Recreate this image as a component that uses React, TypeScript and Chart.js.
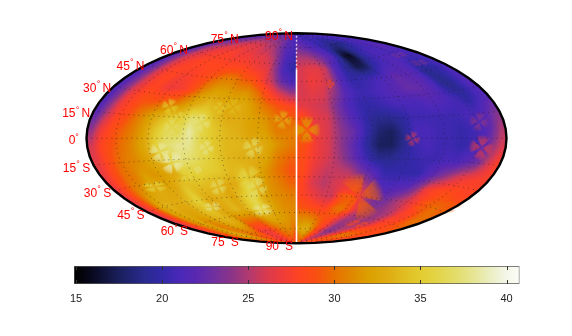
import React, { useEffect, useRef } from "react";
import { Chart, registerables } from "chart.js";

Chart.register(...registerables);

// ---------- data (value on the colour scale) ----------
const gridLats = [85, 75, 65, 55, 45, 35, 25, 15, 5, -5, -15, -25, -35, -45, -55, -65, -75, -85];
const gridLons = Array.from({ length: 36 }, (_, i) => -175 + i * 10);

const rowN85 = [22,22,22,22.5,22.5,23,23,23,23,23,23,23,22.5,22.5,22,22,21.5,21, 21.5,21,21,20.5,20.5,20.5,20.5,21,21,21,21,21,21,21,21,21,21,21];
const rowN75 = [22,22.5,23.5,24,25,25.5,26,26,26,26,25.5,25,25,24,23,22,21.5,21, 23,22.5,22,21.5,21,20.5,20,19.5,19,18.5,18.5,19,19.5,20,21,21,21,21];
const rowN65 = [22,24,25.5,26,27,27,27.5,27.5,27,27,27,26.5,26.5,26,25,23,21,20.5, 25,25,24.5,23.5,22.5,21.5,19.5,16.5,16,18,19.5,20.5,21,21,21,21.5,22,21];
const rowN55 = [22,24,26,27,27.5,28,28,28,28,28,28,28,27.5,27,26.5,24,21,20, 26,26.5,26.5,25.5,22,20,18.5,17,17.5,19.5,20.5,21,21.5,21.5,21,20.5,20.5,21];
const rowN45 = [21.5,23.5,26,27.5,28,27.5,27.5,28,28.5,29.5,30.5,30.5,29.5,29,27.5,25.5,22.5,21, 26,27,26.5,25,21.5,20,20,20.5,21,21.5,22.5,22,22,21,19,19.5,20,21];
const rowN35 = [21.5,23.5,26,27.5,28,27,27,27.5,29,31,32,32,31.5,31.5,30,28,26,24.5, 26,26.5,26,24,21.5,20.5,20.5,21,21.5,22,22.5,22.5,22,21,19,19,20.5,21.5];
const rowN25 = [21.5,24,27,28,29,29,29.5,30,31.5,33,34,33,32.5,33,31.5,30,29,28, 26.5,26,25.5,23,21,20,20,20.5,21,21,21,21.5,21.5,21,20.5,19.5,20.5,21.5];
const rowN15 = [22,25,27.5,28.5,30,31.5,33,34.5,34.5,37,36,34,33,33,32,31.5,30,29.5, 28.5,26.5,26,23.5,21.5,20,19,19,19.5,20.5,20.5,20.5,20.5,20.5,21,21,22,23.5];
const rowN05 = [24,27,28.5,29.5,30.5,32,34.5,36.5,36,38.5,36,34.7,33.7,33.2,32.2,32,30.5,30.5, 30,27,26,24,22.5,20,18,17.5,19,21,21,20.5,20.5,20,20.5,21,22.5,25];
const rowS05 = [26,28,29,30,31,32.5,35,37,38,38,36,34.7,33.7,33.7,33.2,33,31.5,30.5, 29,27,26,24,22,19.5,17.5,17.5,19,20.5,21,20.5,20.5,20,20.5,21,24,26];
const rowS15 = [26.5,28,29.5,30.5,31,32,33.5,35,37.5,37,36,34.7,33.7,33.2,33.2,32.5,30.5,29.5, 28.5,27,26,24.5,22.5,20.5,19,19,19.5,20,20.5,20.5,21,21,22,23,25.5,27.5];
const rowS25 = [27,28.5,30,30.5,32,31.5,32,33,35,35.5,35,34.7,33.7,34.2,33,31.5,30,29, 28.5,26.5,25.5,25.5,25,23,21.5,20,20,20,20,21.5,23,24.5,26,27,27.5,27.5];
const rowS35 = [27,29,31,32,33,32.5,32.5,34.5,34,34,33.5,33,33,35.5,33,31.5,30.5,29.5, 28,26,25.2,26,26.5,26,24.5,21.5,21,21.5,22,24,27,28,28.5,28.5,28,28];
const rowS45 = [26.5,29,32.5,33.5,33,33,34,35.5,33,33,33.5,32.5,34.5,36.5,33,31.5,31,30.5, 28,27,26,25.7,28,29,26.8,24,22.8,23,24.5,25.5,26.8,28,29,30,30,29.5];
const rowS55 = [26,28.5,31.5,32.5,32,32.5,34,34.2,33,32.8,33.7,33,34.5,36.2,34,32,31.2,31, 29,28.5,28,27.7,29.7,30.5,28.2,26,24.5,24,24.2,24.7,25.7,27.5,27.5,29,30,30];
const rowS65 = [27,28.5,30.5,32,30.5,31,32.5,33.2,32.5,30,30,29.7,30.5,32.2,32.5,32,31.7,31, 31,31,30.5,29.5,28.7,28,26,24.5,24.5,25,24.2,25,26.5,28,28.2,28.5,28.5,29];
const rowS75 = [29.5,30,31.5,33,31,30,30,30,28.5,27,27,27.2,29,29.5,30.5,31,31,30, 32,33,33,31,29,27.5,25.5,24,24,25,26,28,30.5,30,30,29,28,28];
const rowS85 = [28,28,29,29,29,28,27,27,27,27,27,28,28,29,29,29,29,28, 29,30,30,30,29,28,27,26,26,27,28,29,29,28,28,28,28,28];

const rows = [rowN85,rowN75,rowN65,rowN55,rowN45,rowN35,rowN25,rowN15,rowN05,rowS05,rowS15,rowS25,rowS35,rowS45,rowS55,rowS65,rowS75,rowS85];

// small four-lobed spots: longitude, latitude, value
const spotLons = [-108,-95,-100,-76,-64,-53,-11,-111,-103,-71,-95,-83,-34,-73,-41,-37,-134,-98,-43, 8,33,92,154,155,152,155,65,104,159];
const spotLats = [21.9,14.5,8.1,11.4,22.8,23.8,14.3,-9.3,-17.1,-7,-26.2,-23,-7.2,-36.4,-30.4,-38.4,-32.2,-50.8,-56.8, 6.6,42.6,-0.4,10,-5.7,57.6,50.2,-44.8,-65.6,-43.9];
const spotVals = [35,36,37,37.5,35,34,33.5,38.5,39,38,36,38,37,37,36,37,36,38,38, 32,28.5,25.5,24,26,23.5,23.5,29.5,28.5,29.5];

const latLabelValues = [90,75,60,45,30,15,0,-15,-30,-45,-60,-75,-90];
const graticuleLats = [-75,-60,-45,-30,-15,0,15,30,45,60,75];
const graticuleLons = [-150,-120,-90,-60,-30,30,60,90,120,150];

const scaleMin = 14.88;
const scaleMax = 40.75;
const scaleTicks = [15,20,25,30,35,40];
const colourValues = [15,16,17.5,19,20,21,22,23,24,25,26,27,28,29,30,31,32,33,34,35,36,37,38,39,40,40.75];
const colourHex = ["#000000","#0a0a22","#1a1f5c","#2a2a90","#3328a8","#4a28b8","#5a28b0","#7030a0","#8a3488","#b03a70","#d83a50","#f03c38","#ff4420","#f85010","#e87000","#e08800","#dca000","#dfaa10","#e0bc20","#e3cc30","#e3d448","#e3dc68","#e6e490","#eaeec0","#f4f6e8","#fdfdf8"];

// ---------- display settings ----------
const W = 572, H = 336;
const CX = 296.5, CY = 138.25, AX = 210, AY = 105;
const spotPx = [9,7,9,10,7,9,10,11,12,8,8,4,11,9,13,11,13,10,11, 14,5,8,10,13,9,10,24,13,25];
const spotSquash = [1,1,1,1,1,1,1,1,1,1,1,1,1,1,1,1,0.45,0.5,0.6, 1,1,1,1,1,0.35,0.35,1,0.3,0.3];
const spotTurn = [20,10,0,15,0,10,10,20,30,10,35,10,20,25,30,20,30,35,30, 0,0,15,10,10,15,20,-20,-15,-25];

const rgb = colourHex.map(h => [parseInt(h.slice(1,3),16),parseInt(h.slice(3,5),16),parseInt(h.slice(5,7),16)]);
function colourOf(v: number): number[] {
  if (v <= colourValues[0]) return rgb[0];
  for (let i = 1; i < colourValues.length; i++) {
    if (v <= colourValues[i]) {
      const t = (v - colourValues[i-1]) / (colourValues[i] - colourValues[i-1]);
      return rgb[i-1].map((c, k) => c + (rgb[i][k] - c) * t);
    }
  }
  return rgb[rgb.length-1];
}
const D2R = Math.PI / 180;
function hammer(lon: number, lat: number) {
  const p = lat * D2R, l = lon * D2R / 2;
  const d = Math.sqrt(1 + Math.cos(p) * Math.cos(l));
  return { x: Math.cos(p) * Math.sin(l) / d, y: Math.sin(p) / d };
}
function sample(lon: number, lat: number) {
  const r = Math.min(17, Math.max(0, (85 - lat) / 10));
  const c = lon < 0 ? Math.min(17, Math.max(0, (lon + 175) / 10)) : Math.min(35, Math.max(18, 18 + (lon - 5) / 10));
  const r0 = Math.min(16, Math.floor(r)), tr = r - r0;
  const c0 = Math.min(34, Math.floor(c)), tc = c - c0;
  const c1 = (lon < 0 && c0 === 17) ? 17 : c0 + 1;
  const a = rows[r0][c0] * (1 - tc) + rows[r0][c1] * tc;
  const b = rows[r0+1][c0] * (1 - tc) + rows[r0+1][c1] * tc;
  return a * (1 - tr) + b * tr;
}
function spotImage(i: number): HTMLCanvasElement {
  const R = spotPx[i];
  const cv = document.createElement("canvas");
  cv.width = R * 2 + 2;
  cv.height = Math.max(4, Math.round(R * 2 * spotSquash[i]) + 2);
  const g = cv.getContext("2d")!;
  const [r, gr, b] = colourOf(spotVals[i]).map(Math.round);
  g.translate(cv.width / 2, cv.height / 2);
  g.scale(1, spotSquash[i]);
  g.rotate(spotTurn[i] * D2R);
  const grad = g.createRadialGradient(0, 0, 0, 0, 0, R);
  grad.addColorStop(0, `rgba(${r},${gr},${b},0.15)`);
  grad.addColorStop(0.35, `rgba(${r},${gr},${b},0.7)`);
  grad.addColorStop(0.7, `rgba(${r},${gr},${b},0.55)`);
  grad.addColorStop(1, `rgba(${r},${gr},${b},0.05)`);
  g.fillStyle = grad;
  for (let k = 0; k < 4; k++) {
    const mid = k * Math.PI / 2;
    g.beginPath();
    g.moveTo(0, 0);
    g.arc(0, 0, R, mid - 0.55, mid + 0.55);
    g.closePath();
    g.fill();
  }
  return cv;
}

const heatPlugin = {
  id: "heat",
  beforeDatasetsDraw(chart: any) {
    const { x: sx, y: sy } = chart.scales;
    const ctx = chart.ctx;
    const img = ctx.createImageData(W, H);
    for (let py = 0; py < H; py++) {
      const Y = sy.getValueForPixel(py + 0.5);
      for (let px = 0; px < W; px++) {
        const X = sx.getValueForPixel(px + 0.5);
        const s = X * X + Y * Y;
        if (s > 1) continue;
        const z = Math.sqrt(1 - s / 2);
        const lat = Math.asin(Math.min(1, Math.max(-1, z * Math.SQRT2 * Y))) / D2R;
        const lon = 2 * Math.atan2(Math.SQRT2 * z * X, 2 * z * z - 1) / D2R;
        const c = colourOf(sample(lon, lat));
        const o = (py * W + px) * 4;
        img.data[o] = c[0]; img.data[o+1] = c[1]; img.data[o+2] = c[2]; img.data[o+3] = 255;
      }
    }
    const off = document.createElement("canvas");
    off.width = W; off.height = H;
    off.getContext("2d")!.putImageData(img, 0, 0);
    ctx.drawImage(off, 0, 0);
  },
};

const labelPlugin = {
  id: "latLabels",
  afterDatasetsDraw(chart: any) {
    const { x: sx, y: sy } = chart.scales;
    const ctx = chart.ctx;
    ctx.save();
    ctx.fillStyle = "#ff0000";
    ctx.textBaseline = "middle";
    for (const lat of latLabelValues) {
      const e = hammer(-180, lat);
      const ex = sx.getPixelForValue(e.x), ey = sy.getPixelForValue(e.y) + 3;
      const txt = String(Math.abs(lat));
      if (lat === 0) {
        ctx.font = "12px 'Liberation Sans'";
        ctx.textAlign = "right";
        ctx.fillText(txt, ex - 11, ey - 1);
        ctx.font = "9px 'Liberation Sans'";
        ctx.textAlign = "center";
        ctx.fillText("°", ex - 9.5, ey - 4);
        continue;
      }
      const letter = lat > 0 ? "N" : "S";
      const right = ex - 3.5;
      ctx.font = "12px 'Liberation Sans'";
      ctx.textAlign = "right";
      ctx.fillText(letter, right, ey);
      const lw = ctx.measureText(letter).width;
      ctx.fillText(txt, right - lw - 6, ey);
      ctx.font = "9px 'Liberation Sans'";
      ctx.textAlign = "center";
      ctx.fillText("°", right - lw - 4, ey - 4);
    }
    ctx.restore();
  },
};

const barTicksPlugin = {
  id: "barTicks",
  afterDatasetsDraw(chart: any) {
    const { ctx, chartArea } = chart;
    const sx = chart.scales.x;
    ctx.save();
    ctx.strokeStyle = "#333";
    ctx.lineWidth = 1;
    for (const t of scaleTicks) {
      const px = Math.round(sx.getPixelForValue(t)) + 0.5;
      ctx.beginPath();
      ctx.moveTo(px, chartArea.top); ctx.lineTo(px, chartArea.top + 4);
      ctx.moveTo(px, chartArea.bottom); ctx.lineTo(px, chartArea.bottom - 4);
      ctx.stroke();
    }
    ctx.restore();
  },
};

export default function App() {
  const mapRef = useRef<HTMLCanvasElement>(null);
  const barRef = useRef<HTMLCanvasElement>(null);

  useEffect(() => {
    const latSweep: number[] = [];
    for (let l = -180; l <= 180; l += 5) latSweep.push(l);
    const lonSweep: number[] = [];
    for (let l = -90; l <= 90; l += 5) lonSweep.push(l);
    const line = (data: any[], color: string, width: number, order: number, dash: number[] = []) => ({
      data, showLine: true, borderColor: color, borderWidth: width, borderDash: dash,
      pointRadius: 0, order, clip: false, fill: false, tension: 0,
    });
    const dotted = [1, 4];
    const dotColor = "rgba(25,25,25,0.5)";
    const field = rows.flatMap((row, r) => row.map((v, c) => ({ ...hammer(gridLons[c], gridLats[r]), v })));
    const edge = [
      ...lonSweep.map(l => hammer(-180, l)),
      ...lonSweep.slice().reverse().map(l => hammer(180, l)),
      hammer(-180, -90),
    ];
    const images = spotLons.map((_, i) => spotImage(i));
    const datasets: any[] = [
      line(edge, "#000000", 2.4, 0),
      line(lonSweep.filter(l => l <= 55).map(l => hammer(0, l)), "#ffffff", 1.6, 1),
      line(lonSweep.filter(l => l >= 55).map(l => hammer(0, l)), "rgba(255,255,255,0.75)", 1.4, 1, [2, 2]),
      ...graticuleLats.map(la => line(latSweep.map(lo => hammer(lo, la)), dotColor, 1, 2, dotted)),
      ...graticuleLons.map(lo => line(lonSweep.map(la => hammer(lo, la)), dotColor, 1, 2, dotted)),
      {
        data: spotLons.map((lo, i) => ({ ...hammer(lo, spotLats[i]), v: spotVals[i] })),
        pointStyle: images,
        pointRadius: 5,
        showLine: false,
        order: 3,
        clip: false,
      },
      { data: field, pointRadius: 0, showLine: false, order: 4 },
    ];
    const map = new Chart(mapRef.current!, {
      type: "scatter",
      data: { datasets },
      plugins: [heatPlugin, labelPlugin],
      options: {
        animation: false,
        responsive: false,
        events: [],
        layout: { padding: 0, autoPadding: false },
        plugins: { legend: { display: false }, tooltip: { enabled: false } },
        scales: {
          x: { display: false, min: (0 - CX) / AX, max: (W - CX) / AX },
          y: { display: false, min: (CY - H) / AY, max: CY / AY },
        },
      },
    } as any);

    const stops = colourValues.map(v => (v - scaleMin) / (scaleMax - scaleMin));
    const bar = new Chart(barRef.current!, {
      type: "bar",
      data: {
        labels: ["scale"],
        datasets: [{
          data: [[scaleMin, scaleMax]],
          backgroundColor: (c: any) => {
            const a = c.chart.chartArea;
            if (!a) return "#888";
            const g = c.chart.ctx.createLinearGradient(a.left, 0, a.right, 0);
            stops.forEach((s, i) => g.addColorStop(Math.max(0, s), colourHex[i]));
            return g;
          },
          borderColor: "#555",
          borderWidth: 1,
          borderSkipped: false,
          barPercentage: 1,
          categoryPercentage: 1,
        }],
      },
      plugins: [barTicksPlugin],
      options: {
        indexAxis: "y",
        animation: false,
        responsive: false,
        events: [],
        layout: { padding: { left: 74, right: 52.5, top: 6, bottom: 14 }, autoPadding: false },
        plugins: { legend: { display: false }, tooltip: { enabled: false } },
        scales: {
          y: { display: false },
          x: {
            min: scaleMin, max: scaleMax,
            border: { display: false },
            grid: { display: false },
            afterBuildTicks: (s: any) => { s.ticks = scaleTicks.map(value => ({ value })); },
            ticks: { color: "#222", font: { family: "Liberation Sans", size: 11 }, maxRotation: 0, autoSkip: false, padding: 0 },
          },
        },
      },
    } as any);
    return () => { map.destroy(); bar.destroy(); };
  }, []);

  return (
    <div style={{ position: "fixed", left: 0, top: 0, width: W, height: H, background: "#fff" }}>
      <canvas ref={mapRef} width={W} height={H} style={{ position: "absolute", left: 0, top: 0 }} />
      <canvas ref={barRef} width={W} height={56} style={{ position: "absolute", left: 0, top: 260 }} />
    </div>
  );
}
